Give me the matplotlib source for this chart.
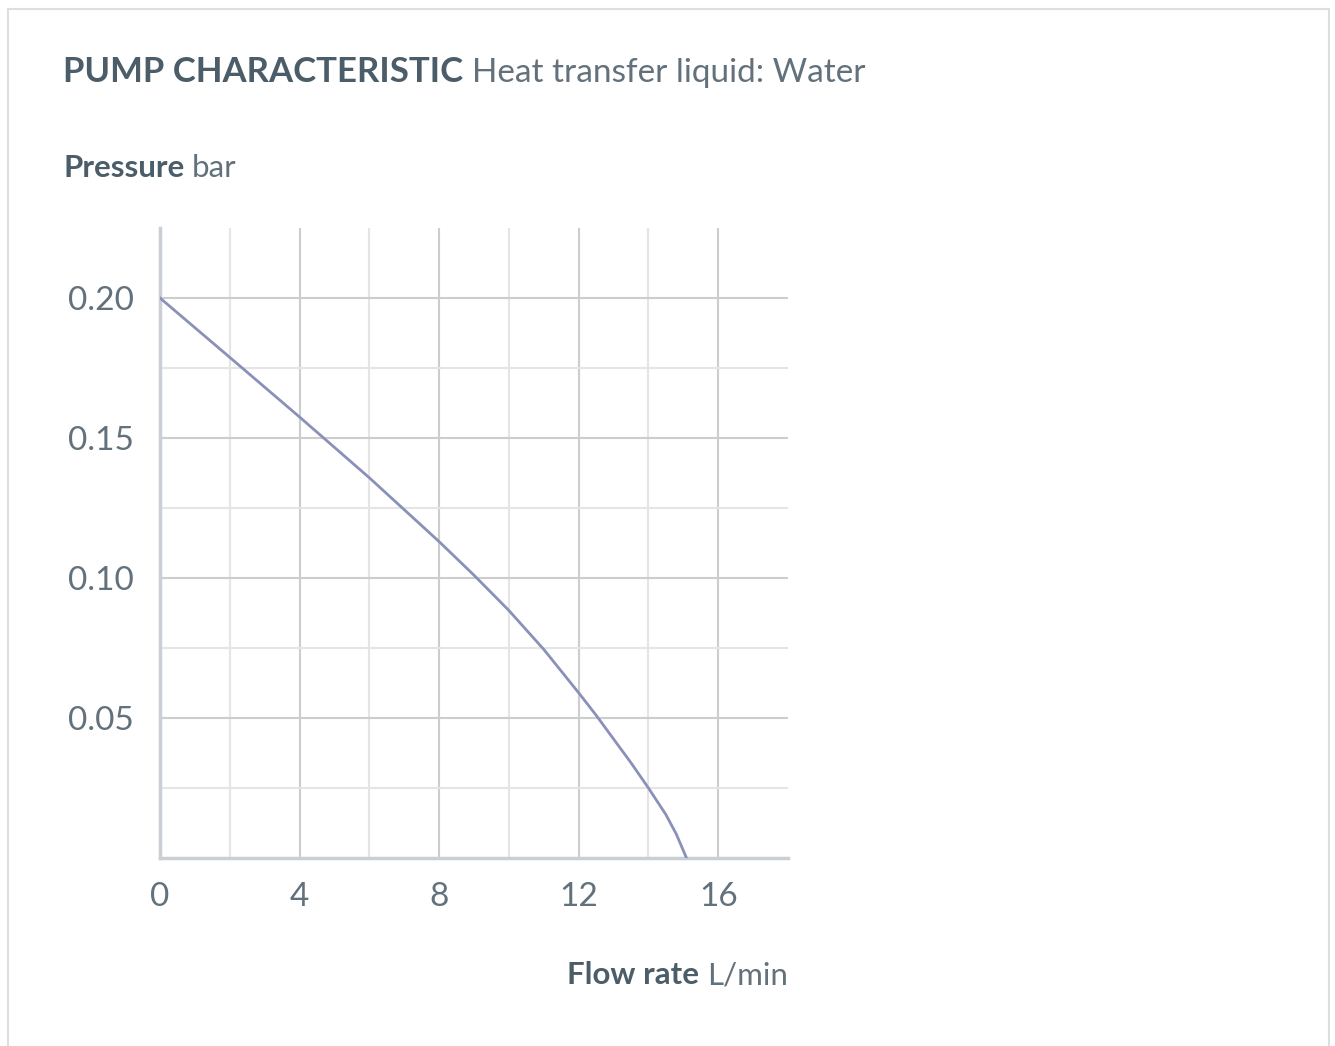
import matplotlib
matplotlib.use("Agg")
import matplotlib.pyplot as plt
from matplotlib.patches import Rectangle
from matplotlib.ticker import FixedLocator

plt.rcParams['font.family'] = ['Lato', 'DejaVu Sans']

# pump curve
flow = [0, 2, 4, 6, 8, 9, 10, 11, 12, 12.5, 13, 13.5, 14, 14.5, 14.8, 15.09]
pressure = [0.200, 0.1788, 0.1575, 0.1358, 0.1130, 0.1010, 0.0884, 0.0745,
            0.0590, 0.0510, 0.0425, 0.0340, 0.0250, 0.0155, 0.0085, 0.0]
x_ticks = [0, 4, 8, 12, 16]
x_minor = [2, 6, 10, 14]
y_ticks = [0.05, 0.10, 0.15, 0.20]
y_minor = [0.025, 0.075, 0.125, 0.175]
y_labels = ["0.05", "0.10", "0.15", "0.20"]

text_col = "#4b5d68"
tick_col = "#62717b"
line_col = "#8b90b9"

W, H = 1335, 1046
fig = plt.figure(figsize=(W / 100, H / 100), dpi=100)

# light frame around the card
fig.patches.append(Rectangle((8 / W, -0.05), (1329 - 8) / W, 1 - 9 / H + 0.05,
                             transform=fig.transFigure, fill=False,
                             edgecolor="#dedede", linewidth=1.5))

ax = fig.add_axes([160 / W, 1 - 858 / H, (788 - 160) / W, (858 - 228) / H])
ax.plot(flow, pressure, color=line_col, linewidth=2, solid_joinstyle="round", zorder=3)

ax.set_xlim(0, 18)
ax.set_ylim(0, 0.225)

ax.xaxis.set_major_locator(FixedLocator(x_ticks))
ax.xaxis.set_minor_locator(FixedLocator(x_minor))
ax.yaxis.set_major_locator(FixedLocator(y_ticks))
ax.yaxis.set_minor_locator(FixedLocator(y_minor))
ax.set_yticklabels(y_labels)

ax.grid(which="major", color="#cdcdcd", linewidth=1.5)
ax.grid(which="minor", color="#e5e5e5", linewidth=1.5)
ax.set_axisbelow(True)

for s in ["top", "right"]:
    ax.spines[s].set_visible(False)
for s in ["left", "bottom"]:
    ax.spines[s].set_color("#c9d0d5")
    ax.spines[s].set_linewidth(2.5)

ax.tick_params(which="both", length=0)
ax.tick_params(axis="x", pad=17, labelsize=24, labelcolor=tick_col)
ax.tick_params(axis="y", pad=19, labelsize=24, labelcolor=tick_col)

# title
t1 = fig.text(63 / W, 1 - 72 / H, "PUMP CHARACTERISTIC", fontsize=25,
              fontweight="bold", color=text_col, va="center", ha="left")
fig.canvas.draw()
ax.annotate("Heat transfer liquid: Water", xy=(1, 0), xycoords=t1,
            xytext=(9, 0), textcoords="offset pixels", fontsize=24,
            color=tick_col, va="bottom", ha="left")

# y axis caption
t2 = fig.text(63 / W, 1 - 168 / H, "Pressure", fontsize=22.5,
              fontweight="bold", color=text_col, va="center", ha="left")
ax.annotate("bar", xy=(1, 0), xycoords=t2, xytext=(8, 0),
            textcoords="offset pixels", fontsize=22.5,
            color=tick_col, va="bottom", ha="left")

# x axis caption
t3 = fig.text(788 / W, 1 - 975 / H, "L/min", fontsize=22.5,
              color=tick_col, va="center", ha="right")
ax.annotate("Flow rate", xy=(0, 0), xycoords=t3, xytext=(-8, 0),
            textcoords="offset pixels", fontsize=22.5, fontweight="bold",
            color=text_col, va="bottom", ha="right")

fig.savefig("out.png", dpi=100, facecolor="white")
